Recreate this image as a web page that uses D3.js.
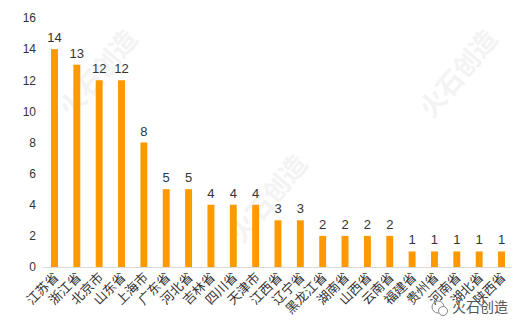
<!DOCTYPE html>
<html><head><meta charset="utf-8">
<script src="https://cdn.jsdelivr.net/npm/d3@7/dist/d3.min.js"></script>
<style>body{margin:0;background:#fff}svg{display:block}</style>
</head><body><svg id="c" width="516" height="332"></svg>
<script>
const categories = ["江苏省","浙江省","北京市","山东省","上海市","广东省","河北省","吉林省","四川省","天津市","江西省","辽宁省","黑龙江省","湖南省","山西省","云南省","福建省","贵州省","河南省","湖北省","陕西省"];
const values = [14,13,12,12,8,5,5,4,4,4,3,3,2,2,2,2,1,1,1,1,1];
const yTicks = [0,2,4,6,8,10,12,14,16];

const svg = d3.select("#c");
const font = "'Liberation Sans','Noto Sans CJK SC',sans-serif";

// faint watermarks
const wm = [[100,75],[270,200],[460,75]];
wm.forEach(([x,y])=>{
  svg.append("text").attr("transform",`translate(${x},${y}) rotate(-50)`)
    .attr("text-anchor","middle").attr("dominant-baseline","middle").attr("font-family","'Noto Sans CJK SC'")
    .attr("font-size",26).attr("font-weight","bold").attr("fill","#f3f3f3").text("火石创造");
});

const x = d3.scaleBand().domain(categories).range([43.3,512.7]).paddingInner(0.69).paddingOuter(0.345);
const y = d3.scaleLinear().domain([0,16]).range([267,18]);

svg.append("g").selectAll("rect").data(values).join("rect")
  .attr("x",(d,i)=>x(categories[i])).attr("width",x.bandwidth())
  .attr("y",d=>y(d)).attr("height",d=>y(0)-y(d)).attr("fill","#FF9900");

svg.append("line").attr("x1",43).attr("x2",512).attr("y1",y(0)+0.5).attr("y2",y(0)+0.5)
  .attr("stroke","#d9d9d9").attr("stroke-width",1);

const ya = svg.append("g").attr("transform","translate(36,0)")
  .call(d3.axisLeft(y).tickValues(yTicks).tickSize(0).tickPadding(0));
ya.select(".domain").remove();
ya.selectAll("text").attr("font-family",font).attr("font-size",12).attr("fill","#333");

svg.append("g").selectAll("text").data(values).join("text")
  .attr("x",(d,i)=>x(categories[i])+x.bandwidth()/2).attr("y",d=>y(d)-7)
  .attr("text-anchor","middle").attr("font-family",font).attr("font-size",13).attr("fill","#333")
  .text(d=>d);

const xa = svg.append("g").attr("transform",`translate(0,${y(0)})`)
  .call(d3.axisBottom(x).tickSize(0).tickPadding(0));
xa.select(".domain").remove();
xa.selectAll("text").attr("font-family","'Noto Sans CJK SC',sans-serif").attr("font-size",13).attr("fill","#333")
  .attr("text-anchor","end").attr("dy",0)
  .attr("transform","translate(5,11) rotate(-45)");

// bottom-right logo
const lg = svg.append("g").attr("transform","translate(438,307)");
lg.append("circle").attr("r",6).attr("fill","none").attr("stroke","#888").attr("stroke-width",1);
lg.append("circle").attr("cx",5).attr("cy",4).attr("r",4.5).attr("fill","#fff").attr("stroke","#888").attr("stroke-width",1);
svg.append("text").attr("x",452).attr("y",312).attr("font-family","'Noto Sans CJK SC'").attr("font-size",14)
  .attr("fill","#555").text("火石创造");
</script></body></html>
